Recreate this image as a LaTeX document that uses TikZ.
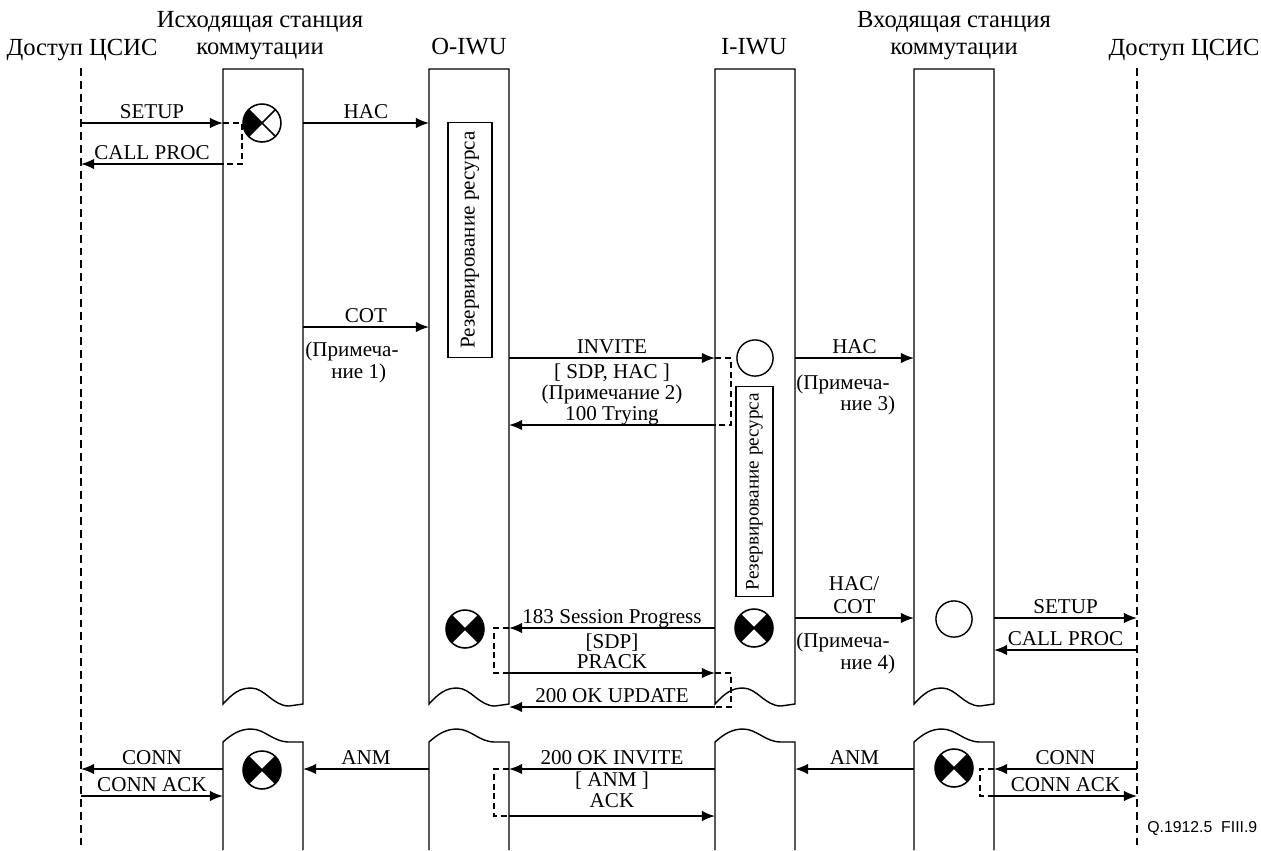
\documentclass[tikz,border=0pt]{standalone}
\usepackage{fontspec}
\setmainfont{Liberation Serif}
\newfontfamily\figfont{Liberation Sans}
\usetikzlibrary{arrows.meta, positioning}

% кружки состояний (радиус 19 px)
\newcommand{\krugPol}[1]{%
  \fill (#1) -- ++(135:10.8pt) arc[start angle=135, end angle=225, radius=10.8pt] -- cycle;
  \draw[line width=0.9pt] (#1) ++(45:10.8pt) -- ++(225:21.6pt);
  \draw[line width=0.9pt] (#1) ++(135:10.8pt) -- ++(-45:21.6pt);
  \draw[line width=0.9pt] (#1) circle[radius=10.8pt];}
\newcommand{\krugX}[1]{%
  \fill (#1) -- ++(135:10.8pt) arc[start angle=135, end angle=225, radius=10.8pt] -- cycle;
  \fill (#1) -- ++(-45:10.8pt) arc[start angle=-45, end angle=45, radius=10.8pt] -- cycle;
  \draw[line width=0.9pt] (#1) ++(45:10.8pt) -- ++(225:21.6pt);
  \draw[line width=0.9pt] (#1) ++(135:10.8pt) -- ++(-45:21.6pt);
  \draw[line width=0.9pt] (#1) circle[radius=10.8pt];}
\newcommand{\krugO}[1]{%
  \draw[line width=0.8pt] (#1) circle[radius=10.3pt];}

\tikzset{
  box/.style={line width=0.8pt},
  life/.style={line width=0.8pt, dash pattern=on 4.5pt off 2.8pt},
  msg/.style={->, line width=0.9pt},
  brk/.style={line width=0.6pt, dash pattern=on 3.4pt off 2.2pt},
  lab/.style={font=\fontsize{12}{14}\selectfont, inner sep=0pt, anchor=base, yshift=2.6pt},
  txt/.style={font=\fontsize{12}{14}\selectfont, inner sep=0pt, anchor=base},
  note/.style={font=\fontsize{12}{14}\selectfont, inner sep=0pt, anchor=base west},
  head/.style={font=\fontsize{14}{16}\selectfont, inner sep=0pt, anchor=base},
  rezerv/.style={draw, line width=0.8pt, rotate=90, inner sep=0pt}
}

\begin{document}
\begin{tikzpicture}[>={Latex[length=7.5pt,width=6pt]}, x=0.02cm, y=-0.02cm]
    \useasboundingbox (0,0) rectangle (1261,850);

    % Заголовки
    \node[head] (hAccL) at (82,55) {Доступ ЦСИС};
    \node[head] (hSt1a) at (260,27) {Исходящая станция};
    \node[head] (hSt1b) at (260,54) {коммутации};
    \node[head] (hOiw) at (469,54) {O-IWU};
    \node[head] (hIiw) at (754,54) {I-IWU};
    \node[head] (hSt2a) at (954,27) {Входящая станция};
    \node[head] (hSt2b) at (954,54) {коммутации};
    \node[head] (hAccR) at (1184,55) {Доступ ЦСИС};

    % Вертикальные линии
    \coordinate (accL) at (81,0);
    \coordinate (st1L) at (223,0);
    \coordinate (st1R) at (303,0);
    \coordinate (oiwL) at (429,0);
    \coordinate (oiwR) at (509,0);
    \coordinate (iiwL) at (715,0);
    \coordinate (iiwR) at (795,0);
    \coordinate (st2L) at (914,0);
    \coordinate (st2R) at (994,0);
    \coordinate (accR) at (1137,0);

    \draw[life] (81,68) -- (81,850);
    \draw[life] (1137,68) -- (1137,850);

    \foreach \l in {223,429,715,914} {
        \draw[box] (\l,69) -- (\l,704) .. controls (\l+10,693) and (\l+17,688) .. (\l+28,688)
            .. controls (\l+42,688) and (\l+50,706) .. (\l+66,706) -- (\l+80,704) -- (\l+80,69) -- cycle;
        \draw[box] (\l,850) -- (\l,742) .. controls (\l+9,734) and (\l+17,729) .. (\l+28,729)
            .. controls (\l+42,729) and (\l+50,742) .. (\l+66,742) -- (\l+80,742) -- (\l+80,850);
    }

    % Уровни сообщений
    \coordinate (y1) at (0,123);
    \coordinate (y2) at (0,164);
    \coordinate (y3) at (0,327);
    \coordinate (y4) at (0,358);
    \coordinate (y5) at (0,425);
    \coordinate (y6) at (0,618);
    \coordinate (y7) at (0,650);
    \coordinate (y8) at (0,628);
    \coordinate (y9) at (0,673);
    \coordinate (y10) at (0,707);
    \coordinate (y11) at (0,769);
    \coordinate (y12) at (0,796);
    \coordinate (y13) at (0,816);

    % Резервирование ресурса
    \node[rezerv, minimum width=133.8pt, minimum height=25pt, font=\fontsize{12}{14}\selectfont]
        (rezO) at (470,240) {Резервирование ресурса};
    \node[rezerv, minimum width=119.6pt, minimum height=21pt, font=\fontsize{10.9}{12}\selectfont]
        (rezI) at (754.5,491.5) {Резервирование ресурса};

    % Кружки
    \krugPol{262,123}
    \krugO{755,358}
    \krugO{954,619}
    \krugX{465,629}
    \krugX{754,628}
    \krugX{262,770}
    \krugX{954,768}

    % Исходящая сторона
    \draw[msg] (accL |- y1) -- node[lab] (mSetup) {SETUP} (st1L |- y1);
    \draw[msg] (st1L |- y2) -- node[lab] (mCallProc) {CALL PROC} (accL |- y2);
    \draw[brk] (st1L |- y1) -- ++(19,0) |- (st1L |- y2);
    \draw[msg] (st1R |- y1) -- node[lab] (mHac) {HAC} (oiwL |- y1);
    \draw[msg] (st1R |- y3) -- node[lab] (mCot) {COT} (oiwL |- y3);
    \node[note] (prim1a) at (305,356) {(Примеча-};
    \node[note] (prim1b) at (331,378) {ние 1)};

    % Между O-IWU и I-IWU
    \draw[msg] (oiwR |- y4) -- node[lab] (mInvite) {INVITE} (iiwL |- y4);
    \node[txt] (sdpHac) at (612,378) {[ SDP, HAC ]};
    \node[txt] (prim2) at (612,399) {(Примечание 2)};
    \draw[msg] (iiwL |- y5) -- node[lab] (mTrying) {100 Trying} (oiwR |- y5);
    \draw[brk] (iiwL |- y4) -- ++(16,0) |- (iiwL |- y5);
    \draw[msg] (iiwL |- y8) -- node[lab] (mProgress) {183 Session Progress} (oiwR |- y8);
    \node[txt] (sdp) at (612,648) {[SDP]};
    \draw[msg] (oiwR |- y9) -- node[lab] (mPrack) {PRACK} (iiwL |- y9);
    \draw[brk] (oiwR |- y8) -- ++(-15,0) |- (oiwR |- y9);
    \draw[msg] (iiwL |- y10) -- node[lab] (mUpdate) {200 OK UPDATE} (oiwR |- y10);
    \draw[brk] (iiwL |- y9) -- ++(16,0) |- (iiwL |- y10);

    % Входящая сторона
    \draw[msg] (iiwR |- y4) -- node[lab] (mHac2) {HAC} (st2L |- y4);
    \node[note] (prim3a) at (796,389) {(Примеча-};
    \node[note] (prim3b) at (840,410) {ние 3)};
    \draw[msg] (iiwR |- y6) -- node[lab] (mCot2) {COT} (st2L |- y6);
    \node[txt] (hacSl) at (854,590) {HAC/};
    \node[note] (prim4a) at (796,647) {(Примеча-};
    \node[note] (prim4b) at (840,669) {ние 4)};
    \draw[msg] (st2R |- y6) -- node[lab] (mSetup2) {SETUP} (accR |- y6);
    \draw[msg] (accR |- y7) -- node[lab] (mCallProc2) {CALL PROC} (st2R |- y7);

    % Ответ
    \draw[msg] (st1L |- y11) -- node[lab] (mConn) {CONN} (accL |- y11);
    \draw[msg] (accL |- y12) -- node[lab] (mConnAck) {CONN ACK} (st1L |- y12);
    \draw[msg] (oiwL |- y11) -- node[lab] (mAnm) {ANM} (st1R |- y11);
    \draw[msg] (iiwL |- y11) -- node[lab] (mOkInvite) {200 OK INVITE} (oiwR |- y11);
    \node[txt] (anmBr) at (612,786) {[ ANM ]};
    \node[txt] (ack) at (612,807) {ACK};
    \draw[msg] (oiwR |- y13) -- (iiwL |- y13);
    \draw[brk] (oiwR |- y11) -- ++(-15,0) |- (oiwR |- y13);
    \draw[msg] (st2L |- y11) -- node[lab] (mAnm2) {ANM} (iiwR |- y11);
    \draw[msg] (accR |- y11) -- node[lab] (mConn2) {CONN} (st2R |- y11);
    \draw[msg] (st2R |- y12) -- node[lab] (mConnAck2) {CONN ACK} (accR |- y12);
    \draw[brk] (st2R |- y11) -- ++(-14,0) |- (st2R |- y12);

    \node[font=\figfont\fontsize{9}{10}\selectfont, inner sep=0pt, anchor=base west]
        (fig) at (1147,832) {Q.1912.5\ \ FIII.9};
\end{tikzpicture}
\end{document}
